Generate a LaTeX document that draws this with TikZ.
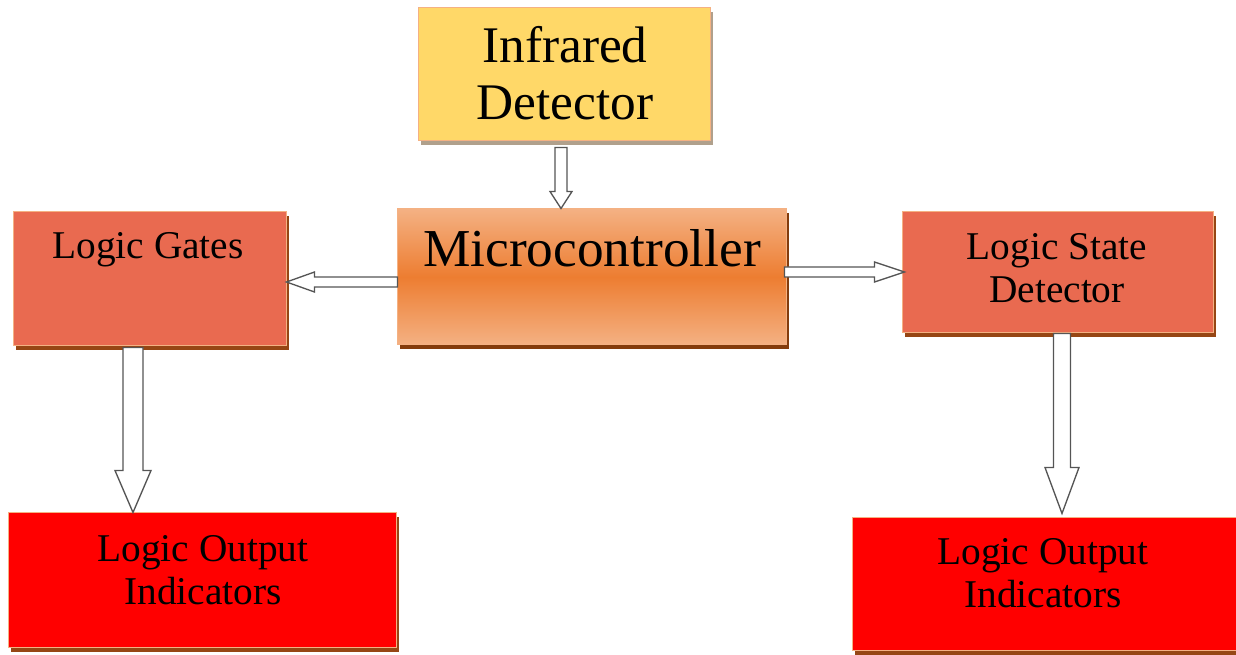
\documentclass[tikz,border=0pt]{standalone}
\usepackage{fontspec}
\setmainfont{Liberation Serif}
\usetikzlibrary{calc,shadows}
\definecolor{irfill}{RGB}{255,216,104}
\definecolor{irshadow}{RGB}{176,160,140}
\definecolor{mclight}{RGB}{244,177,131}
\definecolor{mcdark}{RGB}{237,125,49}
\definecolor{mcshadow}{RGB}{132,60,12}
\definecolor{gatefill}{RGB}{233,106,80}
\definecolor{boxline}{RGB}{244,177,131}
\definecolor{brownshadow}{RGB}{150,70,20}
\definecolor{arrowline}{RGB}{85,85,85}

\begin{document}
\begin{tikzpicture}[x=0.75pt,y=-0.75pt,
  box/.style={draw=boxline, line width=0.75pt, inner sep=0pt},
  shadowed/.style={drop shadow={shadow xshift=2.5pt, shadow yshift=-3pt, fill=#1, opacity=1}},
  txt/.style={anchor=south, align=center, inner sep=0pt, text depth=0pt},
  hollow/.style={draw=arrowline, fill=white, line width=1pt, line join=miter}]
  \useasboundingbox (0,0) rectangle (1236,655);

  \node[box, shadowed=irshadow, fill=irfill, minimum width=219pt, minimum height=99.75pt] (ir) at (564,74.5) {};
  \node[box, shadowed=mcshadow, top color=mclight, bottom color=mclight, middle color=mcdark, minimum width=291.75pt, minimum height=102pt] (mc) at (591.5,277) {};
  \node[box, shadowed=brownshadow, fill=gatefill, minimum width=204.75pt, minimum height=100.5pt] (gates) at (149.5,279) {};
  \node[box, shadowed=brownshadow, fill=gatefill, minimum width=233.25pt, minimum height=90.75pt] (lsd) at (1057.5,272.5) {};
  \node[box, shadowed=brownshadow, fill=red, minimum width=291pt, minimum height=101.25pt] (loil) at (202,580.5) {};
  \node[box, shadowed=brownshadow, fill=red, minimum width=291pt, minimum height=99.75pt] (loir) at (1046,584.5) {};

  \node[txt, font=\fontsize{38.5}{42.75}\selectfont] (irtxt) at (565,120) {Infrared\\Detector};
  \node[txt, font=\fontsize{40}{48}\selectfont] (mctxt) at (592,267) {Microcontroller};
  \node[txt, font=\fontsize{29.5}{32.25}\selectfont] (gatestxt) at (148,259) {Logic Gates};
  \node[txt, font=\fontsize{29.5}{32.25}\selectfont] (lsdtxt) at (1057,303) {Logic State\\Detector};
  \node[txt, font=\fontsize{29.5}{32.25}\selectfont] (loiltxt) at (203,605) {Logic Output\\Indicators};
  \node[txt, font=\fontsize{29.5}{32.25}\selectfont] (loirtxt) at (1043,608) {Logic Output\\Indicators};

  \coordinate (a1) at ($(ir.south)+(-3,6)$);
  \coordinate (a2) at ($(mc.west)+(1,5)$);
  \coordinate (a3) at ($(mc.east)+(-2,-5)$);
  \coordinate (a4) at ($(gates.south)+(-16.5,1)$);
  \coordinate (a5) at ($(lsd.south)+(4.5,0)$);

  \draw[hollow] ($(a1)+(-6,0)$) -- ($(a1 |- mc.north)+(-6,-17)$) -- ++(-5,0) -- (a1 |- mc.north) -- ++(11,-17) -- ++(-5,0) -- ($(a1)+(6,0)$) -- cycle;
  \draw[hollow] ($(a2)+(0,-5)$) -- ($(a2 -| gates.east)+(28,-5)$) -- ++(0,-5) -- (a2 -| gates.east) -- ++(28,10) -- ++(0,-5) -- ($(a2)+(0,5)$) -- cycle;
  \draw[hollow] ($(a3)+(0,-5)$) -- ($(a3 -| lsd.west)+(-27,-5)$) -- ++(0,-5) -- ($(a3 -| lsd.west)+(3,0)$) -- ++(-30,10) -- ++(0,-5) -- ($(a3)+(0,5)$) -- cycle;
  \draw[hollow] ($(a4)+(-10,0)$) -- ($(a4 |- loil.north)+(-10,-42)$) -- ++(-8,0) -- (a4 |- loil.north) -- ++(18,-42) -- ++(-8,0) -- ($(a4)+(10,0)$) -- cycle;
  \draw[hollow] ($(a5)+(-8.5,0)$) -- ($(a5 |- loir.north)+(-8.5,-50)$) -- ++(-8.5,0) -- ($(a5 |- loir.north)+(0,-4)$) -- ++(17,-46) -- ++(-8.5,0) -- ($(a5)+(8.5,0)$) -- cycle;
\end{tikzpicture}
\end{document}
